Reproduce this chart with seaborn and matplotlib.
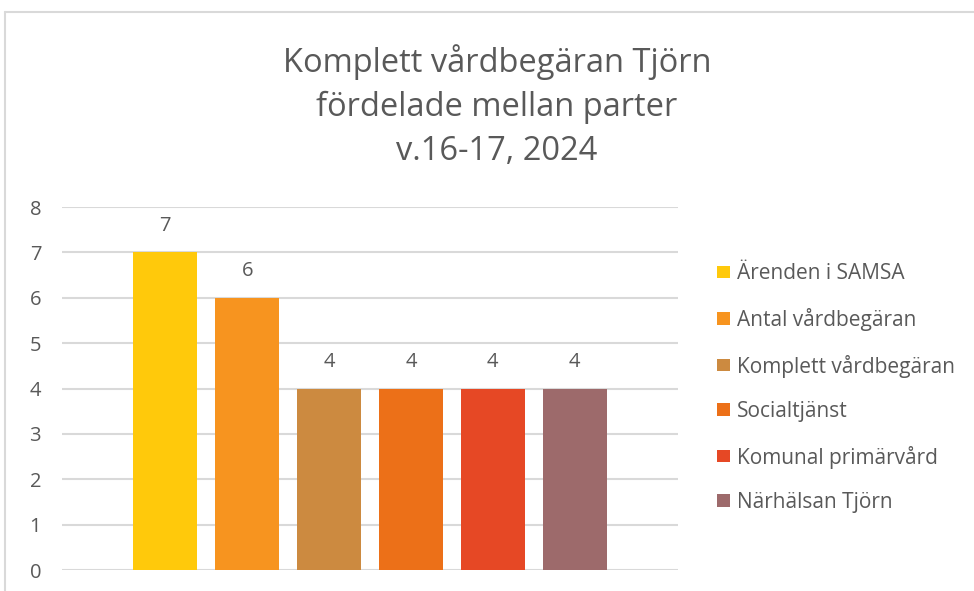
import matplotlib
matplotlib.use("Agg")
import matplotlib.pyplot as plt
from matplotlib.patches import Patch
from matplotlib.lines import Line2D
import pandas as pd
import seaborn as sns

# ---------- Data ----------
categories = ["Ärenden i SAMSA", "Antal vårdbegäran", "Komplett vårdbegäran",
              "Socialtjänst", "Komunal primärvård", "Närhälsan Tjörn"]
values = [7, 6, 4, 4, 4, 4]
colors = ["#FFC90B", "#F7941F", "#CC8A40", "#EC7018", "#E64825", "#9D6A6B"]
yticks = [0, 1, 2, 3, 4, 5, 6, 7, 8]
title = "Komplett vårdbegäran Tjörn\nfördelade mellan parter\nv.16-17, 2024"

TXT = "#595959"
GRID = "#D9D9D9"

sns.set_theme(style="white")
plt.rcParams["font.family"] = ["Open Sans", "DejaVu Sans"]

df = pd.DataFrame({"kategori": categories, "antal": values})

fig = plt.figure(figsize=(9.74, 5.91), dpi=100)
ax = fig.add_axes([62 / 974, 1 - 570 / 591, 616 / 974, 363 / 591])

sns.barplot(data=df, x="kategori", y="antal", hue="kategori", palette=colors,
            width=0.78, saturation=1, legend=False, ax=ax, zorder=3,
            edgecolor="none")

ax.set_xlim(-1.26, 6.26)
ax.set_ylim(0, 8)
ax.set_yticks(yticks)
ax.set_xticks([])
ax.set_xlabel("")
ax.set_ylabel("")
ax.yaxis.grid(True, color=GRID, lw=1.5, zorder=0)
ax.set_axisbelow(True)
for s in ax.spines.values():
    s.set_visible(False)
ax.tick_params(axis="y", length=0, pad=15, labelsize=14.5, labelcolor=TXT)

for i, v in enumerate(values):
    ax.annotate(str(v), (i, v), xytext=(0, 19), textcoords="offset points",
                ha="center", va="center", fontsize=14.5, color=TXT)

handles = [Patch(facecolor=c, edgecolor="none") for c in colors]
fig.legend(handles, categories, loc="upper left",
           bbox_to_anchor=(707 / 974, 1 - 253 / 591), frameon=False,
           fontsize=15, labelcolor=TXT, handlelength=0.58, handleheight=0.55,
           handletextpad=0.35, labelspacing=1.13, borderpad=0)

fig.text(497 / 974, 1 - 106 / 591, title, ha="center", va="center",
         fontsize=23.5, color=TXT, linespacing=1.45)

# chart frame
fig.add_artist(Line2D([5 / 974, 1.0], [1 - 12 / 591] * 2, color="#D9D9D9", lw=1.5))
fig.add_artist(Line2D([5 / 974] * 2, [0, 1 - 12 / 591], color="#D9D9D9", lw=1.5))

fig.savefig("out.png", dpi=100)
